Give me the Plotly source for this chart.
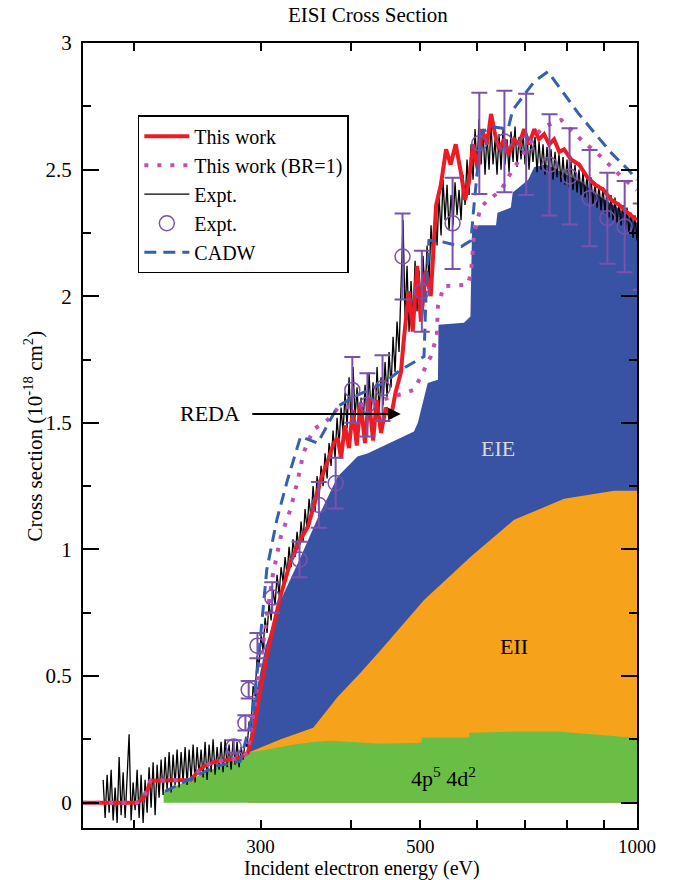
import numpy as np
import plotly.graph_objects as go

# ---------------- data (energy in eV, cross section in 1e-18 cm^2) ----------------
# top edge of the 4p5 4d2 contribution
ground_E = [220, 245, 288, 333, 355, 375, 441, 502, 503, 584, 585, 675, 777, 1000]
ground_S = [0.043, 0.104, 0.197, 0.229, 0.240, 0.245, 0.233, 0.237, 0.257, 0.257, 0.276, 0.281, 0.281, 0.255]

# top edge of 4p5 4d2 + EII
eii_E = [288, 320, 355, 384, 413, 441, 506, 588, 675, 792, 930, 1000]
eii_S = [0.197, 0.250, 0.296, 0.418, 0.513, 0.604, 0.800, 0.972, 1.117, 1.200, 1.232, 1.232]

# top edge of 4p5 4d2 + EII + EIE
eie_E = [288, 295, 305, 320, 341, 361, 384, 409, 423, 490, 496, 512, 529, 530, 575, 587, 590,
         603, 637, 640, 668, 672, 706, 720, 748, 785, 837, 892, 951, 1000]
eie_S = [0.197, 0.42, 0.62, 0.80, 0.97, 1.13, 1.288, 1.367, 1.38, 1.466, 1.499, 1.657, 1.67, 1.887,
         1.895, 1.92, 2.27, 2.28, 2.28, 2.33, 2.35, 2.41, 2.46, 2.51, 2.52, 2.49, 2.45, 2.39, 2.34, 2.29]

# This work
this_E = [170, 202, 206, 209, 211, 240, 245, 250, 258, 281, 288, 293, 300, 307, 320, 330, 341, 349,
          358, 363, 372, 379, 384, 388, 393, 398, 403, 408, 413, 419, 424, 430, 435, 441, 448, 455,
          462, 470, 474, 482, 488, 495, 501, 509, 517, 526, 534, 543, 551, 560, 570, 577, 584, 592,
          601, 609, 619, 627, 635, 643, 654, 664, 675, 686, 697, 708, 720, 731, 743, 755, 767, 780,
          792, 810, 831, 853, 875, 898, 921, 945, 970, 1000]
this_S = [0, 0, 0.015, 0.05, 0.087, 0.09, 0.12, 0.143, 0.16, 0.177, 0.197, 0.276, 0.45, 0.60, 0.82,
          0.95, 1.04, 1.09, 1.20, 1.27, 1.35, 1.42, 1.44, 1.36, 1.49, 1.40, 1.55, 1.41, 1.58, 1.42,
          1.60, 1.43, 1.59, 1.46, 1.56, 1.52, 1.62, 1.70, 1.82, 2.02, 1.86, 2.12, 1.90, 2.10, 2.00,
          2.36, 2.44, 2.58, 2.52, 2.60, 2.48, 2.38, 2.45, 2.60, 2.50, 2.66, 2.60, 2.72, 2.64, 2.58,
          2.62, 2.56, 2.62, 2.60, 2.66, 2.60, 2.66, 2.62, 2.64, 2.60, 2.62, 2.57, 2.58, 2.54, 2.52,
          2.47, 2.44, 2.42, 2.38, 2.36, 2.33, 2.30]

# This work (BR=1)
br1_E = [170, 202, 206, 211, 240, 250, 258, 281, 288, 295, 302, 308, 312, 320, 330, 338, 344, 355,
         372, 384, 413, 455, 490, 501, 517, 527, 529, 539, 582, 588, 594, 607, 648, 662, 690, 720,
         743, 785, 837, 892, 951, 1000]
br1_S = [0, 0, 0.015, 0.087, 0.09, 0.143, 0.16, 0.177, 0.197, 0.40, 0.62, 0.79, 0.90, 1.05, 1.157,
         1.275, 1.38, 1.473, 1.512, 1.558, 1.57, 1.60, 1.63, 1.683, 1.762, 1.84, 1.96, 2.04, 2.045,
         2.09, 2.25, 2.354, 2.42, 2.47, 2.55, 2.63, 2.67, 2.696, 2.617, 2.55, 2.473, 2.42]

# CADW
cadw_E = [221, 250, 261, 281, 292, 297, 302, 306, 316, 327, 341, 360, 384, 405, 445, 470, 506, 509,
          514, 528, 570, 588, 592, 607, 627, 662, 672, 720, 752, 785, 828, 873, 921, 972, 1000]
cadw_S = [0.045, 0.118, 0.146, 0.163, 0.34, 0.525, 0.762, 0.92, 1.117, 1.275, 1.446, 1.42, 1.565,
          1.604, 1.657, 1.71, 1.762, 1.99, 2.22, 2.22, 2.196, 2.22, 2.32, 2.645, 2.67, 2.66, 2.735,
          2.848, 2.887, 2.815, 2.724, 2.645, 2.566, 2.5, 2.46]

# Expt. (crossed-beam points with error bars)
pts_E = [275.3, 285.8, 288.8, 297.0, 311.4, 339.8, 361.5, 381.4, 402.3, 422.2, 443.1, 472.4, 502.5,
         554.4, 603.9, 654.4, 701.5, 755.9, 806.0, 859.4, 909.5, 961.4, 1012.0]
pts_S = [0.222, 0.315, 0.446, 0.62, 0.81, 0.96, 1.176, 1.262, 1.63, 1.571, 1.637, 2.157, 2.02,
         2.288, 2.604, 2.611, 2.60, 2.519, 2.473, 2.387, 2.308, 2.275, 2.196]
pts_err = [0.025, 0.03, 0.035, 0.05, 0.06, 0.07, 0.09, 0.10, 0.13, 0.125, 0.13, 0.17, 0.16,
           0.18, 0.20, 0.20, 0.20, 0.20, 0.19, 0.19, 0.18, 0.18, 0.17]

# Expt. (storage-ring scan on a uniform log-energy grid, 181.3 eV to 1000 eV)
scan_E = np.geomspace(181.3, 1000.0, 268)
scan_S = [0.09, -0.06, 0.11, -0.04, 0.13, -0.07, 0.06, -0.08, 0.18, -0.05,
          0.12, -0.06, 0.10, 0.27, -0.07, 0.08, -0.03, 0.13, -0.06, 0.11,
          -0.08, 0.09, -0.04, 0.14, -0.02, 0.16, -0.05, 0.15, 0.02, 0.17,
          0.03, 0.18, 0.05, 0.20, 0.04, 0.19, 0.07, 0.21, 0.06, 0.20,
          0.08, 0.22, 0.07, 0.21, 0.09, 0.23, 0.08, 0.22, 0.11, 0.21,
          0.10, 0.24, 0.09, 0.23, 0.12, 0.25, 0.11, 0.22, 0.13, 0.24,
          0.12, 0.25, 0.14, 0.23, 0.13, 0.25, 0.15, 0.24, 0.14, 0.22,
          0.17, 0.24, 0.22, 0.32, 0.30, 0.46, 0.42, 0.58, 0.54, 0.66,
          0.60, 0.73, 0.67, 0.79, 0.72, 0.84, 0.78, 0.90, 0.82, 0.93,
          0.87, 0.97, 0.90, 1.01, 0.93, 1.04, 0.97, 1.07, 1.00, 1.11,
          1.03, 1.16, 1.08, 1.20, 1.12, 1.25, 1.15, 1.29, 1.20, 1.33,
          1.25, 1.38, 1.28, 1.42, 1.33, 1.47, 1.36, 1.52, 1.41, 1.56,
          1.46, 1.62, 1.48, 1.68, 1.50, 1.72, 1.52, 1.64, 1.47, 1.60,
          1.49, 1.65, 1.51, 1.70, 1.53, 1.66, 1.50, 1.72, 1.55, 1.68,
          1.57, 1.74, 1.60, 1.78, 1.64, 1.84, 1.70, 1.90, 1.78, 2.05,
          2.30, 1.92, 2.12, 1.86, 2.06, 1.90, 2.14, 1.94, 2.10, 1.96,
          2.16, 2.00, 2.20, 2.06, 2.28, 2.12, 2.34, 2.20, 2.40, 2.24,
          2.46, 2.30, 2.44, 2.26, 2.40, 2.28, 2.45, 2.32, 2.42, 2.30,
          2.48, 2.36, 2.54, 2.40, 2.60, 2.46, 2.66, 2.50, 2.70, 2.52,
          2.66, 2.48, 2.64, 2.50, 2.68, 2.52, 2.62, 2.48, 2.64, 2.50,
          2.66, 2.52, 2.62, 2.49, 2.65, 2.53, 2.67, 2.51, 2.63, 2.54,
          2.65, 2.52, 2.64, 2.50, 2.62, 2.53, 2.63, 2.49, 2.61, 2.50,
          2.60, 2.48, 2.59, 2.49, 2.58, 2.46, 2.57, 2.47, 2.56, 2.45,
          2.55, 2.44, 2.54, 2.43, 2.53, 2.42, 2.52, 2.41, 2.50, 2.40,
          2.49, 2.39, 2.48, 2.37, 2.47, 2.36, 2.45, 2.35, 2.44, 2.34,
          2.43, 2.33, 2.42, 2.31, 2.40, 2.30, 2.39, 2.29, 2.37, 2.28,
          2.36, 2.26, 2.35, 2.25, 2.33, 2.23, 2.32, 2.22]

# ---------------- styling ----------------
SERIF = "Liberation Serif"
C_GREEN = "#6abd45"
C_ORANGE = "#f7a21b"
C_BLUE = "#3953a4"
C_RED = "#ed1c24"
C_MAG = "#c04fb0"
C_DASH = "#3560b0"
C_PURPLE = "#7b52ab"

fig = go.Figure()

# stacked contributions, drawn back to front
for xs, ys, col in [(eie_E, eie_S, C_BLUE), (eii_E, eii_S, C_ORANGE), (ground_E, ground_S, C_GREEN)]:
    fig.add_trace(go.Scatter(x=xs, y=ys, mode="lines", fill="tozeroy", fillcolor=col,
                             line=dict(width=0, color=col), showlegend=False, hoverinfo="skip"))

fig.add_trace(go.Scatter(x=scan_E, y=scan_S, mode="lines", name="Expt.",
                         line=dict(color="black", width=1.3), legendrank=3))
fig.add_trace(go.Scatter(x=this_E, y=this_S, mode="lines", name="This work",
                         line=dict(color=C_RED, width=4), legendrank=1))
fig.add_trace(go.Scatter(x=br1_E, y=br1_S, mode="lines", name="This work (BR=1)",
                         line=dict(color=C_MAG, width=4, dash="4px,9px"), legendrank=2))
fig.add_trace(go.Scatter(x=cadw_E, y=cadw_S, mode="lines", name="CADW",
                         line=dict(color=C_DASH, width=3, dash="12px,7px"), legendrank=5))
fig.add_trace(go.Scatter(x=pts_E, y=pts_S, mode="markers", name="Expt.",
                         marker=dict(symbol="circle-open", size=15, color=C_PURPLE,
                                     line=dict(width=1.5, color=C_PURPLE)),
                         error_y=dict(type="data", array=pts_err, color=C_PURPLE,
                                      thickness=2, width=8),
                         cliponaxis=False, legendrank=4))

fig.update_xaxes(type="log", range=[np.log10(170), 3],
                 tickvals=[200, 300, 400, 500, 600, 700, 800, 900, 1000],
                 ticktext=["", "300", "", "500", "", "", "", "", "1000"],
                 ticks="inside", ticklen=8, tickwidth=2, tickcolor="black",
                 showline=True, linewidth=2, linecolor="black", mirror="ticks",
                 showgrid=False, zeroline=False,
                 tickfont=dict(family=SERIF, size=19, color="black"))
fig.update_yaxes(range=[-0.1, 3], dtick=0.5, tick0=0,
                 ticks="inside", ticklen=16, tickwidth=2, tickcolor="black",
                 minor=dict(dtick=0.25, ticks="inside", ticklen=8, tickwidth=2, tickcolor="black"),
                 showline=True, linewidth=2, linecolor="black", mirror="ticks",
                 showgrid=False, zeroline=False, ticklabelstandoff=5,
                 tickfont=dict(family=SERIF, size=21, color="black"))

annotations = [
    dict(text="EISI Cross Section", xref="paper", yref="paper", x=0.514, y=1.036,
         xanchor="center", yanchor="middle", showarrow=False,
         font=dict(family=SERIF, size=21, color="black")),
    dict(text="Incident electron energy (eV)", xref="paper", yref="paper", x=0.504, y=-0.051,
         xanchor="center", yanchor="middle", showarrow=False,
         font=dict(family=SERIF, size=20, color="black")),
    dict(text="Cross section (10<sup>-18</sup> cm<sup>2</sup>)", xref="paper", yref="paper",
         x=-0.0885, y=0.5, xanchor="center", yanchor="middle", textangle=-90, showarrow=False,
         font=dict(family=SERIF, size=21, color="black")),
    dict(text="REDA", x=np.log10(255.5), y=1.535, xref="x", yref="y", showarrow=False,
         font=dict(family=SERIF, size=22, color="black")),
    dict(text="", x=np.log10(469.8), y=1.535, xref="x", yref="y", ax=-150, ay=0,
         showarrow=True, arrowhead=2, arrowsize=1.4, arrowwidth=1.8, arrowcolor="black"),
    dict(text="EIE", x=np.log10(641), y=1.40, xref="x", yref="y", showarrow=False,
         font=dict(family=SERIF, size=22, color="#d9d9d9")),
    dict(text="EII", x=np.log10(675), y=0.616, xref="x", yref="y", showarrow=False,
         font=dict(family=SERIF, size=22, color="black")),
    dict(text="4p<sup>5</sup> 4d<sup>2</sup>", x=np.log10(539), y=0.10, xref="x", yref="y",
         showarrow=False, font=dict(family=SERIF, size=22, color="black")),
]

fig.update_layout(
    width=678, height=880, autosize=False,
    margin=dict(l=83, r=41, t=43, b=52),
    plot_bgcolor="white", paper_bgcolor="white",
    annotations=annotations,
    legend=dict(x=0.099, y=0.908, xanchor="left", yanchor="top",
                bgcolor="white", bordercolor="black", borderwidth=1.5, itemwidth=45,
                font=dict(family=SERIF, size=20, color="black"), tracegroupgap=0),
)

fig.write_html("out.html")
